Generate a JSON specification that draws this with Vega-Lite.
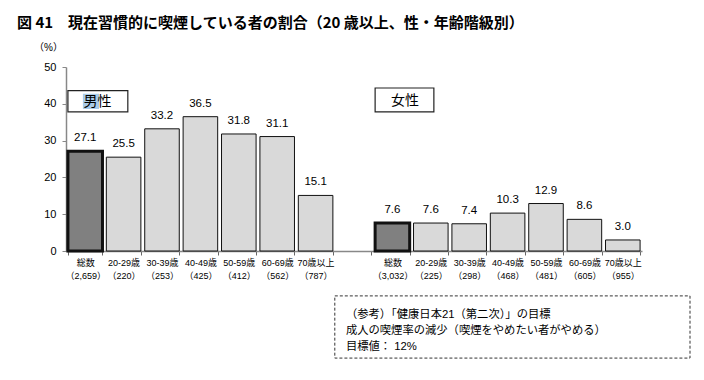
{
  "$schema": "https://vega.github.io/schema/vega-lite/v6.json",
  "width": 576,
  "height": 184,
  "autosize": {"type": "none"},
  "padding": {"left": 66, "top": 67, "right": 62, "bottom": 129},
  "background": "white",
  "config": {
    "view": {"stroke": null},
    "font": "'Liberation Sans', 'Noto Sans CJK JP'"
  },
  "title": {
    "text": "図 41　現在習慣的に喫煙している者の割合（20 歳以上、性・年齢階級別）",
    "anchor": "start",
    "frame": "group",
    "dx": -49,
    "dy": -7,
    "fontSize": 15,
    "fontWeight": "bold",
    "font": "'Noto Sans CJK JP'",
    "color": "#000"
  },
  "resolve": {"scale": {"x": "independent"}, "axis": {"x": "independent", "y": "independent"}},
  "layer": [
    {
      "data": {
        "values": [
          {"key": "総数|（2,659）", "value": 27.1, "kind": "total"},
          {"key": "20-29歳|（220）", "value": 25.5, "kind": "age"},
          {"key": "30-39歳|（253）", "value": 33.2, "kind": "age"},
          {"key": "40-49歳|（425）", "value": 36.5, "kind": "age"},
          {"key": "50-59歳|（412）", "value": 31.8, "kind": "age"},
          {"key": "60-69歳|（562）", "value": 31.1, "kind": "age"},
          {"key": "70歳以上|（787）", "value": 15.1, "kind": "age"},
          {"key": "総数|（3,032）", "value": 7.6, "kind": "total"},
          {"key": "20-29歳|（225）", "value": 7.6, "kind": "age"},
          {"key": "30-39歳|（298）", "value": 7.4, "kind": "age"},
          {"key": "40-49歳|（468）", "value": 10.3, "kind": "age"},
          {"key": "50-59歳|（481）", "value": 12.9, "kind": "age"},
          {"key": "60-69歳|（605）", "value": 8.6, "kind": "age"},
          {"key": "70歳以上|（955）", "value": 3.0, "kind": "age"}
        ]
      },
      "encoding": {
        "x": {
          "field": "key",
          "type": "nominal",
          "sort": null,
          "scale": {
            "domain": ["総数|（2,659）", "20-29歳|（220）", "30-39歳|（253）", "40-49歳|（425）", "50-59歳|（412）", "60-69歳|（562）", "70歳以上|（787）", " ", "総数|（3,032）", "20-29歳|（225）", "30-39歳|（298）", "40-49歳|（468）", "50-59歳|（481）", "60-69歳|（605）", "70歳以上|（955）"],
            "paddingInner": 0.1,
            "paddingOuter": 0.05
          },
          "axis": {
            "title": null,
            "labelAngle": 0,
            "labelExpr": "isString(datum.value) ? split(datum.value, '|') : ''",
            "labelFontSize": 9,
            "labelLineHeight": 13,
            "labelPadding": 3,
            "labelColor": "#000",
            "tickBand": "extent",
            "tickSize": 4,
            "tickColor": "#666",
            "domainColor": "#888",
            "domainWidth": 1.5,
            "labelBaseline": "top"
          }
        },
        "y": {
          "field": "value",
          "type": "quantitative",
          "scale": {"domain": [0, 50], "nice": false},
          "axis": {
            "title": "（%）",
            "titleAngle": 0,
            "titleX": -18,
            "titleY": -20,
            "titleAlign": "center",
            "titleBaseline": "middle",
            "titleFontSize": 10,
            "titleFontWeight": "normal",
            "titleColor": "#000",
            "values": [0, 10, 20, 30, 40, 50],
            "labelOverlap": false,
            "grid": false,
            "labelFontSize": 11,
            "labelColor": "#000",
            "labelPadding": 6,
            "tickSize": 4,
            "tickColor": "#888",
            "domainColor": "#888",
            "domainWidth": 1.5
          }
        }
      },
      "layer": [
        {
          "mark": {"type": "bar", "stroke": "#111"},
          "encoding": {
            "color": {
              "field": "kind",
              "type": "nominal",
              "scale": {"domain": ["total", "age"], "range": ["#808080", "#d9d9d9"]},
              "legend": null
            },
            "strokeWidth": {
              "condition": {"test": "datum.kind === 'total'", "value": 3},
              "value": 1
            }
          }
        },
        {
          "mark": {"type": "text", "baseline": "bottom", "dy": -8, "fontSize": 11.5, "color": "#000"},
          "encoding": {
            "text": {"field": "value", "type": "quantitative", "format": ".1f"}
          }
        }
      ]
    },
    {
      "data": {
        "values": [
          {"x": 0.05, "x2": 1.61, "y": 37.8, "y2": 43.6},
          {"x": 8.05, "x2": 9.58, "y": 37.8, "y2": 44.3}
        ]
      },
      "mark": {"type": "rect", "fill": "white", "stroke": "#222", "strokeWidth": 1.2},
      "encoding": {
        "x": {"field": "x", "type": "quantitative", "scale": {"domain": [0, 15], "nice": false, "zero": false}, "axis": null},
        "x2": {"field": "x2"},
        "y": {"field": "y", "type": "quantitative", "scale": {"domain": [0, 50], "nice": false}, "axis": null},
        "y2": {"field": "y2"}
      }
    },
    {
      "data": {"values": [{"x": 0.44, "x2": 0.86, "y": 38.6, "y2": 42.7}]},
      "mark": {"type": "rect", "fill": "#a9cbe8"},
      "encoding": {
        "x": {"field": "x", "type": "quantitative", "scale": {"domain": [0, 15], "nice": false, "zero": false}, "axis": null},
        "x2": {"field": "x2"},
        "y": {"field": "y", "type": "quantitative", "scale": {"domain": [0, 50], "nice": false}, "axis": null},
        "y2": {"field": "y2"}
      }
    },
    {
      "data": {"values": [{"x": 7.0, "x2": 16.25, "y": -12.2, "y2": -29.1}]},
      "mark": {"type": "rect", "fill": null, "stroke": "#333", "strokeWidth": 1, "strokeDash": [3, 2]},
      "encoding": {
        "x": {"field": "x", "type": "quantitative", "scale": {"domain": [0, 15], "nice": false, "zero": false}, "axis": null},
        "x2": {"field": "x2"},
        "y": {"field": "y", "type": "quantitative", "scale": {"domain": [0, 50], "nice": false}, "axis": null},
        "y2": {"field": "y2"}
      }
    },
    {
      "data": {
        "values": [
          {"x": 0.82, "y": 40.6, "t": "男性"},
          {"x": 8.83, "y": 40.8, "t": "女性"}
        ]
      },
      "mark": {"type": "text", "fontSize": 14, "font": "'Noto Sans CJK JP'", "align": "center", "baseline": "middle", "color": "#000"},
      "encoding": {
        "x": {"field": "x", "type": "quantitative", "scale": {"domain": [0, 15], "nice": false, "zero": false}, "axis": null},
        "y": {"field": "y", "type": "quantitative", "scale": {"domain": [0, 50], "nice": false}, "axis": null},
        "text": {"field": "t"}
      }
    },
    {
      "data": {
        "values": [
          {"x": 7.29, "y": -17.4, "t": "（参考）「健康日本21（第二次）」の目標"},
          {"x": 7.29, "y": -21.7, "t": "成人の喫煙率の減少（喫煙をやめたい者がやめる）"},
          {"x": 7.29, "y": -26.1, "t": "目標値：  12%"}
        ]
      },
      "mark": {"type": "text", "fontSize": 11.3, "align": "left", "baseline": "middle", "color": "#000"},
      "encoding": {
        "x": {"field": "x", "type": "quantitative", "scale": {"domain": [0, 15], "nice": false, "zero": false}, "axis": null},
        "y": {"field": "y", "type": "quantitative", "scale": {"domain": [0, 50], "nice": false}, "axis": null},
        "text": {"field": "t"}
      }
    }
  ]
}
